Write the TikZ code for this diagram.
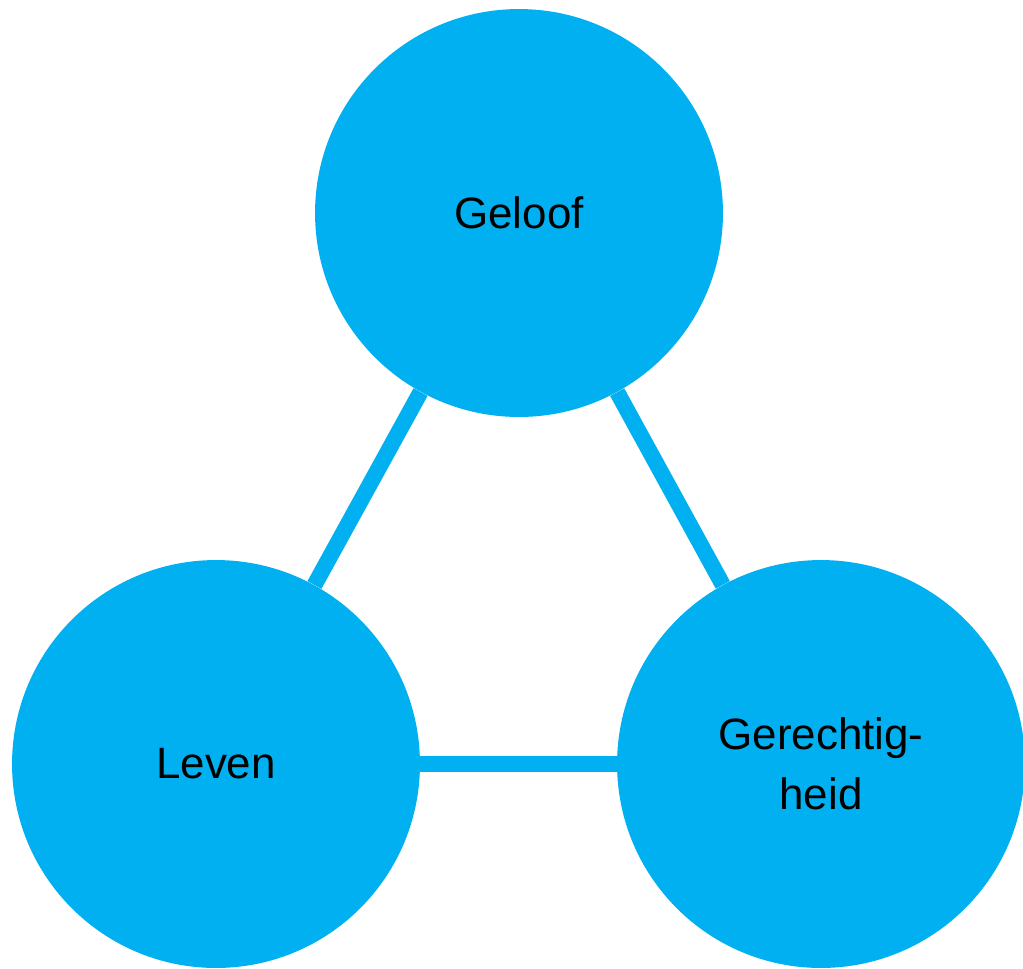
\documentclass[tikz,border=0pt]{standalone}
\usepackage{fontspec}
\setmainfont{Liberation Sans}
\definecolor{lichtblauw}{HTML}{00B0F0}
\begin{document}
\begin{tikzpicture}
    [x=0.02cm,y=-0.02cm,
    font=\fontsize{25}{34}\selectfont,
    node/.style={shape=circle,fill=lichtblauw,minimum size=8.16cm,inner sep=0pt,align=center},
    edge/.style={draw=lichtblauw,line width=0.32cm}]

    \useasboundingbox (0,0) rectangle (1023,968);

    \node (G) [node] at (519,213) {Geloof};
    \node (L) [node] at (216,764) {Leven};
    \node (R) [node] at (821,764) {Gerechtig-\\heid};

    \draw [edge] (G) -- (L);
    \draw [edge] (G) -- (R);
    \draw [edge] (L) -- (R);

  \end{tikzpicture}
\end{document}
